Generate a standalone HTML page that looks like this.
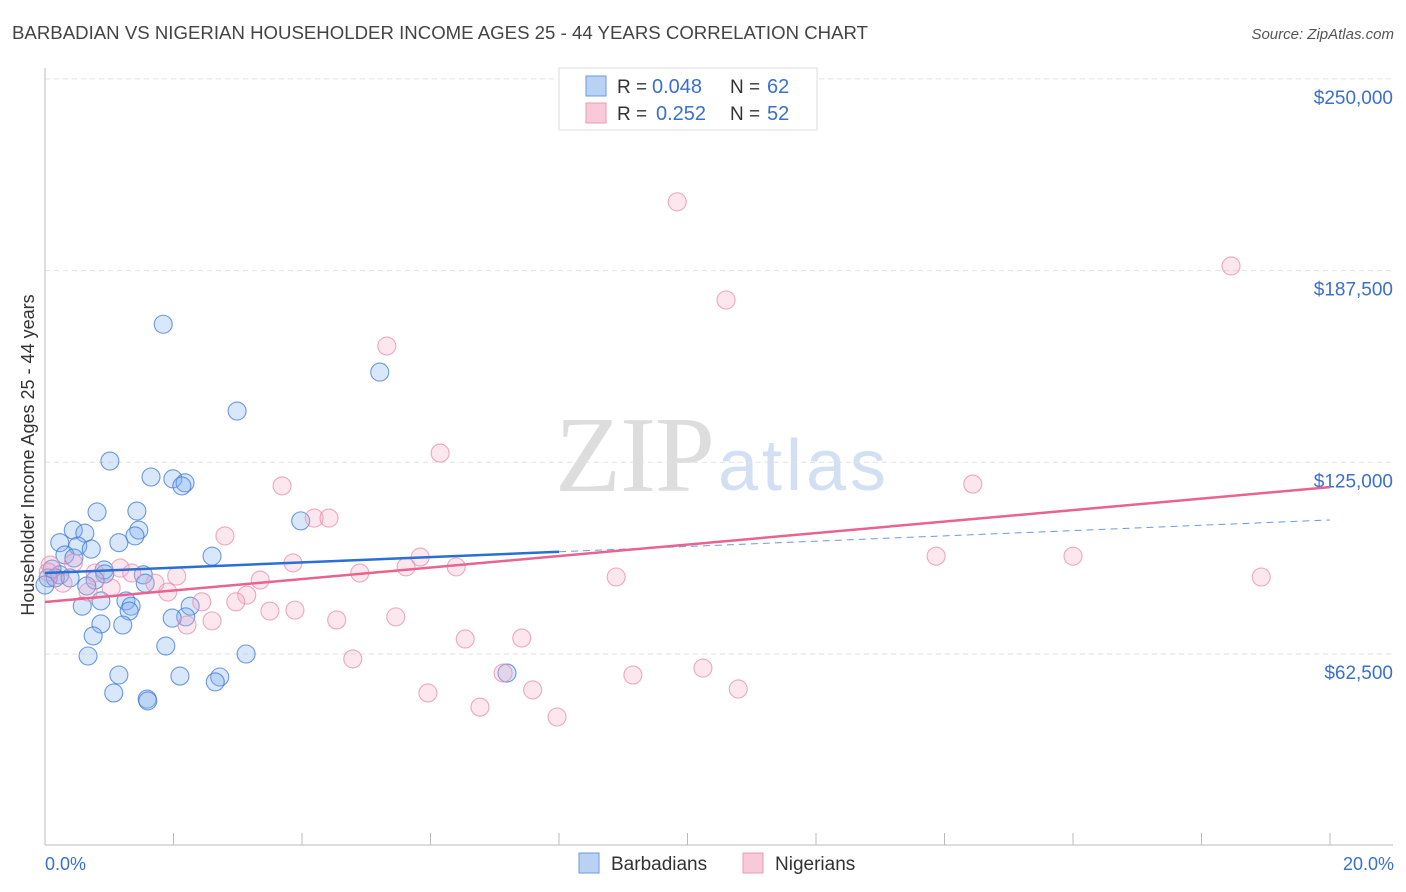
<!DOCTYPE html>
<html><head><meta charset="utf-8"><style>
body{margin:0;background:#fff;font-family:"Liberation Sans",sans-serif}
svg{display:block}
</style></head><body>
<svg id="chart" width="1406" height="892">
<text x="12" y="39" font-size="18.6" fill="#444" textLength="856">BARBADIAN VS NIGERIAN HOUSEHOLDER INCOME AGES 25 - 44 YEARS CORRELATION CHART</text>
<text x="1394" y="39" font-size="15" fill="#555" font-style="italic" text-anchor="end">Source: ZipAtlas.com</text>
<text x="555" y="491" font-size="108" fill="#ddd" font-family="Liberation Serif" textLength="160">ZIP</text>
<text x="718" y="490" font-size="72" fill="#d3e0f4" textLength="168">atlas</text>
<text transform="translate(34,455) rotate(-90)" font-size="18" fill="#333" text-anchor="middle">Householder Income Ages 25 - 44 years</text>
<g id="grid"></g><g id="marks"></g>
<g>
<rect x="559" y="68" width="258" height="62" fill="#fff" stroke="#ddd"/>
<rect x="586" y="76" width="20" height="20" fill="#b9d2f4" stroke="#6a9ae0"/>
<rect x="586" y="103" width="20" height="20" fill="#f8c9d8" stroke="#ec9ab4"/>
<text x="617" y="93" font-size="19" fill="#333">R =</text><text x="652" y="93" font-size="20" fill="#3a6fd0">0.048</text>
<text x="730" y="93" font-size="19" fill="#333">N =</text><text x="767" y="93" font-size="20" fill="#3a6fd0">62</text>
<text x="617" y="120" font-size="19" fill="#333">R =</text><text x="656" y="120" font-size="20" fill="#3a6fd0">0.252</text>
<text x="730" y="120" font-size="19" fill="#333">N =</text><text x="767" y="120" font-size="20" fill="#3a6fd0">52</text>
</g>
<g>
<rect x="579" y="853" width="20" height="20" fill="#b9d2f4" stroke="#6a9ae0"/>
<text x="611" y="870" font-size="19" fill="#333">Barbadians</text>
<rect x="743" y="853" width="20" height="20" fill="#f8c9d8" stroke="#ec9ab4"/>
<text x="775" y="870" font-size="19" fill="#333">Nigerians</text>
</g>
<text x="45" y="870" font-size="18" fill="#3a6fd0">0.0%</text>
<text x="1394" y="870" font-size="18" fill="#3a6fd0" text-anchor="end">20.0%</text>
</svg>
<script>
const yTicks=[62500,125000,187500,250000];
const yTickLabels=["$62,500","$125,000","$187,500","$250,000"];
const xTicks=[0,2,4,6,8,10,12,14,16,18,20];
const bluePct=[1.84,2.99,5.21,1.01,1.65,1.99,2.18,2.13,0.81,1.43,3.98,0.44,0.62,1.46,1.40,0.23,0.51,0.72,1.15,2.60,0.31,0.45,0.11,0.23,0.92,1.53,0.93,0.05,0.16,0.39,0.78,0.65,1.56,0.58,0.87,1.26,1.34,2.26,1.31,2.19,1.98,0.87,1.21,0.75,1.88,0.67,3.13,1.15,2.10,2.72,2.65,1.07,1.59,1.60,7.19,0.0];
const blueInc=[170000,141700,154400,125400,120200,119600,118300,117300,108800,109100,105900,102900,101900,102900,101000,98800,97700,96700,98800,94400,94800,93800,90200,88300,89900,88300,88600,87300,87300,87300,86600,84700,85600,78100,79800,79800,78100,78100,76500,74600,74200,72300,71950,68400,65100,61850,62500,55650,55300,55000,53400,49800,47800,47200,56300,85000];
const pinkPct=[9.84,18.46,10.60,5.32,6.15,14.44,3.69,4.19,4.42,2.80,13.87,16.0,5.84,3.86,5.62,6.40,1.17,1.35,4.90,2.05,8.89,18.93,3.35,1.71,1.03,1.91,3.14,2.44,2.97,3.50,3.89,4.54,5.46,2.60,2.21,6.54,7.42,4.79,10.24,9.15,7.13,7.59,10.79,5.96,6.77,7.97,0.08,0.28,0.67,0.44,0.78,0.05];
const pinkInc=[209900,189000,177900,162900,128000,117900,117300,106800,106800,101000,94400,94400,94100,92200,90900,90900,90500,88900,88900,87900,87600,87600,86600,85600,84000,82700,81700,79500,79500,76500,76800,73600,74600,73300,71950,67400,67700,60900,57900,55650,56300,50800,51100,49800,45200,41960,91500,85600,82700,92200,88900,89200];
const blueTrend=[88900,106200];
const pinkTrend=[79450,116900];
const X=p=>45+p*64.25;
const Y=v=>654-(v-62500)/326.0;
const NS="http://www.w3.org/2000/svg";
const grid=document.getElementById('grid'),marks=document.getElementById('marks');
function mk(tag,attrs,parent){const e=document.createElementNS(NS,tag);for(const k in attrs)e.setAttribute(k,attrs[k]);parent.appendChild(e);return e;}
yTicks.forEach((v,i)=>{
 const l=mk('line',{x1:45,x2:1393,y1:Y(v),y2:Y(v),stroke:'#e2e2e2','stroke-dasharray':'5,4'},grid);
 
 
 const t=mk('text',{x:1393,y:Y(v)+25,'font-size':19,fill:'#3a6fd0','text-anchor':'end'},grid);
 t.textContent=yTickLabels[i];
 
 
});
mk('line',{x1:45,x2:45,y1:68,y2:845,stroke:'#bbb'},grid);
mk('line',{x1:45,x2:1393,y1:845,y2:845,stroke:'#bbb'},grid);
xTicks.forEach(p=>{
 const l=mk('line',{x1:X(p),x2:X(p),y1:833,y2:845,stroke:'#bbb'},grid);
 
 
});
bluePct.forEach((p,i)=>{
 const c=mk('circle',{cx:X(p),cy:Y(blueInc[i]),r:9,fill:'rgba(130,175,240,0.3)',stroke:'rgba(60,120,215,0.75)','stroke-width':1.1},marks);
 
 
});
pinkPct.forEach((p,i)=>{
 const c=mk('circle',{cx:X(p),cy:Y(pinkInc[i]),r:9,fill:'rgba(245,170,198,0.28)',stroke:'rgba(232,140,172,0.75)','stroke-width':1.1},marks);
 
 
});
const by=p=>blueTrend[0]+(blueTrend[1]-blueTrend[0])*p/20;
const bt=mk('line',{x1:X(0),y1:Y(by(0)),x2:X(8),y2:Y(by(8)),stroke:'#2a6fd6','stroke-width':2.5},marks);


const bd=mk('line',{x1:X(8),y1:Y(by(8)),x2:X(20),y2:Y(by(20)),stroke:'#6a9ae0','stroke-width':1,'stroke-dasharray':'7,5'},marks);


const pt=mk('line',{x1:X(0),y1:Y(pinkTrend[0]),x2:X(20),y2:Y(pinkTrend[1]),stroke:'#e8648f','stroke-width':2.5},marks);


</script>
</body></html>
